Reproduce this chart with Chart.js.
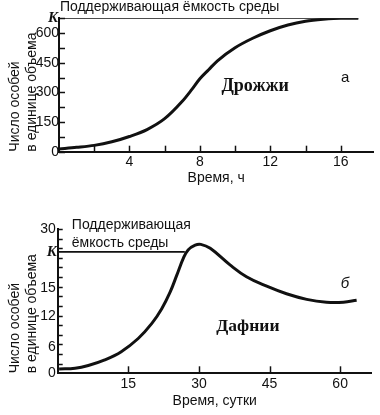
<!DOCTYPE html>
<html>
<head>
<meta charset="utf-8">
<script src="https://cdn.jsdelivr.net/npm/chart.js@4.4.1/dist/chart.umd.min.js"></script>
<style>
  body { margin: 0; background: #fff; width: 380px; height: 415px; overflow: hidden; }
  canvas { position: absolute; left: 0; }
  #yeast { top: 0; }
  #daphnia { top: 200px; }
</style>
</head>
<body>
<canvas id="yeast" width="380" height="200"></canvas>
<canvas id="daphnia" width="380" height="215"></canvas>
<script>
// --- data ---
var yeastHours = [0, 1, 2, 3, 4, 5, 6, 7, 7.5, 8, 8.5, 9, 10, 11, 12, 13, 14, 15, 16, 17];
var yeastCount = [14, 22, 32, 50, 77, 112, 167, 255, 310, 369, 415, 460, 526, 574, 612, 641, 660, 670, 675, 675];
var yeastK = 675;
var yeastKEnd = 17;
var yeastXTicks = [2, 4, 6, 8, 10, 12, 14, 16];
var yeastYTicks = [0, 75, 150, 225, 300, 375, 450, 525, 600, 675];

var daphniaDays = [0.3, 3.7, 6.5, 10, 13.5, 17.1, 20, 22.1, 23.9, 25.3, 26.7, 27.7, 29.2, 30.4, 32.4, 36.6, 40.1, 44.4, 48.6, 52.9, 57.1, 60.7, 63.5];
var daphniaCount = [1.0, 1.16, 1.8, 3.1, 5.0, 7.7, 10.6, 12.8, 14.6, 18.3, 22.6, 24.7, 25.9, 26.1, 25.1, 20.9, 17.9, 15.5, 14.4, 13.8, 13.5, 13.5, 13.7];
var daphniaK = 24.2;
var daphniaKEnd = 27;
var daphniaXTicks = [15, 30, 45, 60];
var daphniaYTicks = [0, 6, 12, 15, 30];

var INK = '#111';
var SANS = '"Liberation Sans", Arial, sans-serif';
var SERIF = '"Liberation Serif", "Times New Roman", serif';

// the daphnia axis labels in the original are not evenly spaced;
// this scale places each labelled value where it sits in the figure
var brokenStops = [0, 0.18, 0.396, 0.59, 1];

class BrokenScale extends Chart.LinearScale {
  toDecimal(v) {
    var vals = daphniaYTicks, n = vals.length;
    var i = 1;
    while (i < n - 1 && v > vals[i]) i++;
    var t = (v - vals[i - 1]) / (vals[i] - vals[i - 1]);
    return brokenStops[i - 1] + t * (brokenStops[i] - brokenStops[i - 1]);
  }
  fromDecimal(d) {
    var n = brokenStops.length;
    var i = 1;
    while (i < n - 1 && d > brokenStops[i]) i++;
    var t = (d - brokenStops[i - 1]) / (brokenStops[i] - brokenStops[i - 1]);
    return daphniaYTicks[i - 1] + t * (daphniaYTicks[i] - daphniaYTicks[i - 1]);
  }
  getPixelForValue(v) {
    return this.getPixelForDecimal(this.toDecimal(v));
  }
  getValueForPixel(p) {
    return this.fromDecimal(this.getDecimalForPixel(p));
  }
}
BrokenScale.id = 'broken';
BrokenScale.defaults = {};
Chart.register(BrokenScale);

function pointsOf(xs, ys) {
  return xs.map(function (x, i) { return { x: x, y: ys[i] }; });
}

function setTicks(values) {
  return function (scale) {
    scale.ticks = values.map(function (v) { return { value: v }; });
  };
}

function fixWidth(w) { return function (s) { s.width = w; }; }
function fixHeight(h) { return function (s) { s.height = h; }; }

// short tick marks pointing into the plot, K label and text notes
var figureMarks = {
  id: 'figureMarks',
  afterDraw: function (chart, args, o) {
    var ctx = chart.ctx, a = chart.chartArea;
    var xs = chart.scales.x, ys = chart.scales.y;
    ctx.save();
    ctx.strokeStyle = INK;
    ctx.lineWidth = 1.5;
    xs.ticks.forEach(function (t) {
      var px = Math.round(xs.getPixelForValue(t.value)) + 0.5;
      ctx.beginPath();
      ctx.moveTo(px, a.bottom);
      ctx.lineTo(px, a.bottom - o.xTickLen);
      ctx.stroke();
    });
    var yPix = o.yMarks
      ? o.yMarks.map(function (d) { return ys.getPixelForDecimal(d); })
      : ys.ticks.map(function (t) { return ys.getPixelForValue(t.value); });
    yPix.forEach(function (py) {
      py = Math.round(py) + 0.5;
      ctx.beginPath();
      ctx.moveTo(a.left, py);
      ctx.lineTo(a.left + o.yTickLen, py);
      ctx.stroke();
    });

    ctx.fillStyle = INK;
    ctx.textBaseline = 'middle';
    ctx.textAlign = 'right';
    ctx.font = 'italic bold 15px ' + SERIF;
    ctx.fillText('K', a.left - 1, ys.getPixelForValue(o.k));

    o.notes.forEach(function (n) {
      ctx.font = n.font;
      ctx.textAlign = n.align;
      ctx.fillText(n.text, xs.getPixelForValue(n.x), ys.getPixelForValue(n.y));
    });
    ctx.restore();
  }
};

function axisTitle(text, pad) {
  return { display: true, text: text, color: INK, font: { family: SANS, size: 14 }, padding: pad };
}

function curveSets(xs, ys, k, kEnd, smooth) {
  var curve = {
    data: pointsOf(xs, ys),
    borderColor: INK,
    borderWidth: 3,
    pointRadius: 0
  };
  if (smooth === 'monotone') curve.cubicInterpolationMode = 'monotone';
  else curve.tension = smooth;
  return [curve, {
    data: [{ x: 0, y: k }, { x: kEnd, y: k }],
    borderColor: INK,
    borderWidth: 1.6,
    pointRadius: 0
  }];
}

var commonPlugins = { legend: { display: false }, tooltip: { enabled: false } };
var noGrid = { display: false, drawTicks: false };

new Chart(document.getElementById('yeast'), {
  type: 'line',
  data: { datasets: curveSets(yeastHours, yeastCount, yeastK, yeastKEnd, 'monotone') },
  plugins: [figureMarks],
  options: {
    responsive: false,
    animation: false,
    devicePixelRatio: 1,
    layout: { padding: { left: 0, top: 18.3, right: 6.7, bottom: 0 } },
    scales: {
      x: {
        type: 'linear',
        min: 0,
        max: 17.85,
        afterBuildTicks: setTicks(yeastXTicks),
        afterFit: fixHeight(48.3),
        grid: noGrid,
        border: { display: true, color: INK, width: 2 },
        ticks: {
          color: INK, padding: 2, maxRotation: 0, autoSkip: false,
          font: { family: SANS, size: 14 },
          callback: function (v) { return v % 4 === 0 ? String(v) : ''; }
        },
        title: axisTitle('Время, ч', { top: 0, bottom: 13.6 })
      },
      y: {
        type: 'linear',
        min: 0,
        max: 675,
        afterBuildTicks: setTicks(yeastYTicks),
        afterFit: fixWidth(59),
        grid: noGrid,
        border: { display: true, color: INK, width: 2 },
        ticks: {
          color: INK, padding: 0, autoSkip: false,
          font: { family: SANS, size: 14 },
          callback: function (v) { return v % 150 === 0 ? String(v) : ''; }
        },
        title: Object.assign(axisTitle(['Число особей', 'в единице объема'], { top: 7, bottom: 0 }), { align: 'start' })
      }
    },
    plugins: Object.assign({
      figureMarks: {
        xTickLen: 6,
        yTickLen: 6,
        k: yeastK,
        notes: [
          { text: 'Поддерживающая ёмкость среды', x: 0.05, y: 730, align: 'left', font: '14px ' + SANS },
          { text: 'Дрожжи', x: 11.14, y: 329, align: 'center', font: 'bold 18px ' + SERIF },
          { text: 'а', x: 16.25, y: 373, align: 'center', font: '15px ' + SANS }
        ]
      }
    }, commonPlugins)
  }
});

var daphniaMarks = [];
for (var i = 1; i <= 15; i++) daphniaMarks.push(i / 15);

new Chart(document.getElementById('daphnia'), {
  type: 'line',
  data: { datasets: curveSets(daphniaDays, daphniaCount, daphniaK, daphniaKEnd, 0.4) },
  plugins: [figureMarks],
  options: {
    responsive: false,
    animation: false,
    devicePixelRatio: 1,
    layout: { padding: { left: 0, top: 29, right: 8.3, bottom: 0 } },
    scales: {
      x: {
        type: 'linear',
        min: 0,
        max: 66.7,
        afterBuildTicks: setTicks(daphniaXTicks),
        afterFit: fixHeight(41.7),
        grid: noGrid,
        border: { display: true, color: INK, width: 2 },
        ticks: {
          color: INK, padding: 2, maxRotation: 0, autoSkip: false,
          font: { family: SANS, size: 14 },
          callback: function (v) { return String(v); }
        },
        title: axisTitle('Время, сутки', { top: 0, bottom: 5 })
      },
      y: {
        type: 'broken',
        min: 0,
        max: 30,
        afterBuildTicks: setTicks(daphniaYTicks),
        afterFit: fixWidth(57.7),
        grid: noGrid,
        border: { display: true, color: INK, width: 2 },
        ticks: {
          color: INK, padding: 2, autoSkip: false,
          font: { family: SANS, size: 14 },
          callback: function (v) { return String(v); }
        },
        title: Object.assign(axisTitle(['Число особей', 'в единице объема'], { top: 7, bottom: 0 }), { align: 'start' })
      }
    },
    plugins: Object.assign({
      figureMarks: {
        xTickLen: 7,
        yTickLen: 5,
        yMarks: daphniaMarks,
        k: daphniaK,
        notes: [
          { text: 'Поддерживающая', x: 3.0, y: 31.0, align: 'left', font: '14px ' + SANS },
          { text: 'ёмкость среды', x: 3.0, y: 26.45, align: 'left', font: '14px ' + SANS },
          { text: 'Дафнии', x: 40.4, y: 10, align: 'center', font: 'bold 17.5px ' + SERIF },
          { text: 'б', x: 61, y: 16.2, align: 'center', font: 'italic 15px ' + SANS }
        ]
      }
    }, commonPlugins)
  }
});
</script>
</body>
</html>
